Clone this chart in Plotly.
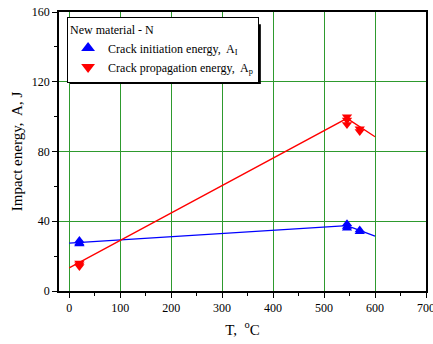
import plotly.graph_objects as go

# Data
t_init = [20, 20, 20, 545, 545, 545, 570, 570]
a_init = [29, 27.5, 27, 38.5, 37, 36, 35, 34]
t_prop = [20, 20, 20, 545, 545, 545, 570, 570]
a_prop = [16, 15, 14, 100, 98, 95.5, 93, 91.5]
fit_t = [0, 545, 600]
fit_init = [27.5, 37.5, 31.5]
fit_prop = [13.3, 99, 88.5]

font = "Liberation Serif, Times New Roman, serif"
fig = go.Figure()
fig.add_trace(go.Scatter(x=fit_t, y=fit_init, mode="lines", line=dict(color="#0000ff", width=1.3), showlegend=False))
fig.add_trace(go.Scatter(x=fit_t, y=fit_prop, mode="lines", line=dict(color="#ff0000", width=1.3), showlegend=False))
fig.add_trace(go.Scatter(x=t_init, y=a_init, mode="markers", name="Crack initiation energy,  A<sub>I</sub>",
                         marker=dict(symbol="triangle-up", color="#0000ff", size=9)))
fig.add_trace(go.Scatter(x=t_prop, y=a_prop, mode="markers", name="Crack propagation energy,  A<sub>p</sub>",
                         marker=dict(symbol="triangle-down", color="#ff0000", size=9)))

ax = dict(showline=True, linecolor="black", linewidth=1.5, mirror=True, automargin=False,
          ticks="outside", ticklen=5, tickcolor="black", tickwidth=1, ticklabeloverflow="allow",
          showgrid=True, gridcolor="#2e9a2e", gridwidth=1, zeroline=False,
          tickfont=dict(family=font, size=12, color="black"))
fig.update_xaxes(**ax, range=[-20, 700], dtick=100, tick0=0,
                 minor=dict(dtick=50, ticks="outside", ticklen=3, tickcolor="black", showgrid=False),
                 title=dict(text="T,  <sup>o</sup>C", font=dict(family=font, size=15, color="black"), standoff=10))
fig.update_yaxes(**ax, range=[0, 160], dtick=40, tick0=0,
                 minor=dict(dtick=20, ticks="outside", ticklen=3, tickcolor="black", showgrid=False),
                 title=dict(text="Impact energy,  A, J", font=dict(family=font, size=15, color="black"), standoff=6))

# legend shadow
fig.add_shape(type="rect", xref="paper", yref="paper", x0=0.030, x1=0.550, y0=0.742, y1=0.956,
              fillcolor="black", line=dict(width=0), layer="above")

fig.update_layout(
    width=433, height=344,
    margin=dict(l=59, r=7, t=12, b=53),
    plot_bgcolor="white", paper_bgcolor="white",
    font=dict(family=font, size=12, color="black"),
    legend=dict(x=0.022, y=0.982, xanchor="left", yanchor="top",
                bgcolor="white", bordercolor="black", borderwidth=1,
                title=dict(text="New material - N", font=dict(family=font, size=12)),
                font=dict(family=font, size=12), tracegroupgap=0, itemsizing="constant"),
)
fig.write_html("out.html", config={"displayModeBar": False},
               post_script="document.body.style.margin='0';")
